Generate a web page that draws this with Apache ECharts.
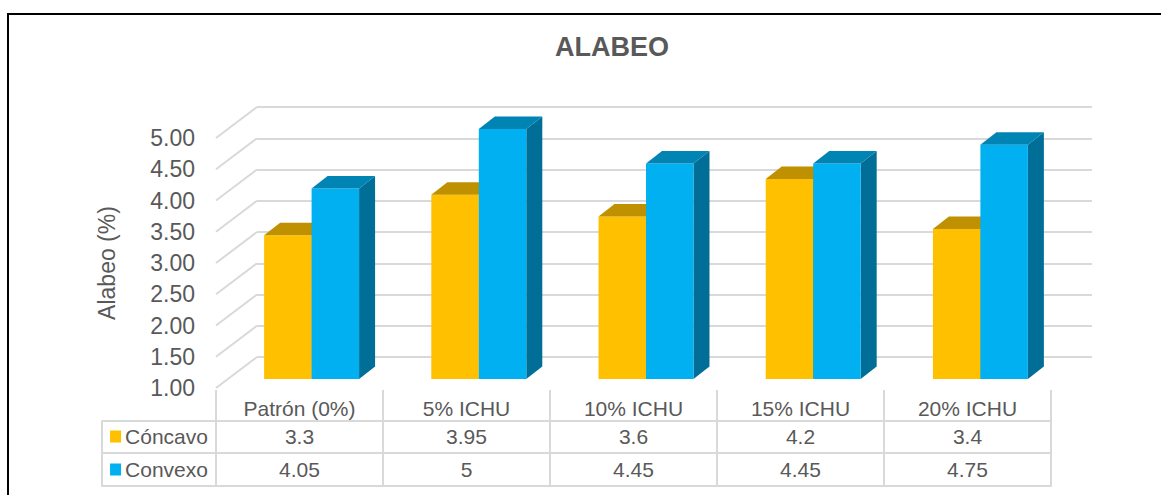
<!DOCTYPE html>
<html>
<head>
<meta charset="utf-8">
<script src="https://cdn.jsdelivr.net/npm/echarts@6/dist/echarts.min.js"></script>
<style>
html,body{margin:0;padding:0;background:#fff;}
#c{width:1161px;height:495px;}
</style>
</head>
<body>
<div id="c"></div>
<script>
// ---- data ----
const categories = ['Patrón (0%)', '5% ICHU', '10% ICHU', '15% ICHU', '20% ICHU'];
const seriesNames = ['Cóncavo', 'Convexo'];
const concavo = [3.3, 3.95, 3.6, 4.2, 3.4];
const convexo = [4.05, 5, 4.45, 4.45, 4.75];
const yTicks = [1, 1.5, 2, 2.5, 3, 3.5, 4, 4.5, 5];
const yMin = 1, yMax = 5, yStep = 0.5;

// ---- styles / layout ----
const FONT = 'Liberation Sans, Arial, sans-serif';
const TXT = '#595959';
const GRID_COLOR = '#d9d9d9';
const DEPTH_X = 41, DEPTH_Y = -31;     // back wall offset
const DX = 16, DY = -12.5;             // bar depth
const BAR_FRAC = 0.284;
const COLORS = [
  {front: '#FFC000', top: '#BF9000', side: '#9E7700'},
  {front: '#00B0F0', top: '#0084B4', side: '#006E96'}
];

function makeBarRender(side, colors) {
  return function (params, api) {
    const i = api.value(0), v = api.value(1);
    const top = api.coord([i, v]);
    const base = api.coord([i, yMin]);
    const band = api.size([1, 0])[0];
    const w = band * BAR_FRAC;
    const x0 = side < 0 ? top[0] - w : top[0];
    const yT = top[1], yB = base[1];
    return {
      type: 'group',
      children: [
        {type: 'polygon', shape: {points: [[x0 + w, yT], [x0 + w + DX, yT + DY], [x0 + w + DX, yB + DY], [x0 + w, yB]]}, style: {fill: colors.side}},
        {type: 'rect', shape: {x: x0, y: yT, width: w, height: yB - yT}, style: {fill: colors.front}},
        {type: 'polygon', shape: {points: [[x0, yT], [x0 + w, yT], [x0 + w + DX, yT + DY], [x0 + DX, yT + DY]]}, style: {fill: colors.top}}
      ]
    };
  };
}

function renderDiag(params, api) {
  const p = api.coord([0, api.value(1)]);
  const half = api.size([1, 0])[0] / 2;
  const x = p[0] - half;
  return {
    type: 'line',
    shape: {x1: x, y1: p[1], x2: x + DEPTH_X, y2: p[1] + DEPTH_Y},
    style: {stroke: GRID_COLOR, lineWidth: 2}
  };
}

const lineStyle = {color: GRID_COLOR, width: 2};
const labelBase = {fontFamily: FONT, fontSize: 21, color: TXT, interval: 0};

function tableAxis(grid, data, offset, tickLen, opts) {
  return Object.assign({
    gridIndex: grid, type: 'category', data: data, position: 'bottom', offset: offset,
    axisLine: {show: true, lineStyle: lineStyle},
    axisTick: {show: tickLen > 0, interval: 0, length: tickLen, lineStyle: lineStyle},
    axisLabel: {show: false},
    splitLine: {show: false}
  }, opts || {});
}

function legendLabel(idx, margin) {
  const rich = {
    sq: {width: 11, height: 12, backgroundColor: COLORS[idx].front, verticalAlign: 'middle'},
    t: {fontFamily: FONT, fontSize: 21, color: TXT, padding: [0, 0, 0, 4], verticalAlign: 'middle'}
  };
  return {show: true, interval: 0, margin: margin, formatter: (v) => '{sq|}{t|' + v + '}', rich: rich};
}

const chart = echarts.init(document.getElementById('c'), null, {renderer: 'svg'});
chart.setOption({
  backgroundColor: '#fff',
  animation: false,
  textStyle: {fontFamily: FONT},
  title: {
    text: 'ALABEO', left: 612, top: 33, textAlign: 'center', padding: 0,
    textStyle: {fontFamily: FONT, fontSize: 27, fontWeight: 'bold', color: TXT}
  },
  graphic: [{
    type: 'rect', shape: {x: 8, y: 14, width: 1300, height: 700},
    style: {fill: 'none', stroke: '#000', lineWidth: 2}, silent: true, z: 100
  }],
  grid: [
    {left: 228, top: 129, width: 836, height: 250, containLabel: false, outerBoundsMode: 'none'}, // bars plane
    {left: 216, top: 138, width: 835, height: 250, containLabel: false, outerBoundsMode: 'none'}, // front plane + table
    {left: 257, top: 107, width: 835, height: 250, containLabel: false, outerBoundsMode: 'none'}, // back wall
    {left: 102, top: 138, width: 114, height: 250, containLabel: false, outerBoundsMode: 'none'}  // legend column
  ],
  xAxis: [
    {gridIndex: 0, type: 'category', data: categories, show: false},
    tableAxis(1, categories, 2, 31, {
      axisLine: {show: false},
      axisLabel: Object.assign({show: true, margin: 8}, labelBase)
    }),
    tableAxis(1, categories, 33, 32, {
      axisLabel: Object.assign({show: true, margin: 5, formatter: (v, i) => String(concavo[i])}, labelBase)
    }),
    tableAxis(1, categories, 65, 33, {
      axisLabel: Object.assign({show: true, margin: 6, formatter: (v, i) => String(convexo[i])}, labelBase)
    }),
    tableAxis(1, categories, 98, 0),
    {gridIndex: 2, type: 'value', min: 0, max: 1, show: false},
    tableAxis(3, [seriesNames[0]], 33, 32, {axisLabel: legendLabel(0, 5)}),
    tableAxis(3, [seriesNames[1]], 65, 33, {axisLabel: legendLabel(1, 6)}),
    tableAxis(3, [''], 98, 0)
  ],
  yAxis: [
    {gridIndex: 0, type: 'value', min: yMin, max: yMax, show: false},
    {
      gridIndex: 1, type: 'value', min: yMin, max: yMax, interval: yStep,
      name: 'Alabeo (%)', nameLocation: 'middle', nameGap: 98, nameRotate: 90,
      nameTextStyle: {fontFamily: FONT, fontSize: 23, color: TXT},
      axisLine: {show: false}, axisTick: {show: false}, splitLine: {show: false},
      axisLabel: {fontFamily: FONT, fontSize: 23, color: TXT, margin: 21, formatter: (v) => v.toFixed(2)}
    },
    {
      gridIndex: 2, type: 'value', min: yMin, max: yMax, interval: yStep,
      axisLine: {show: false}, axisTick: {show: false}, axisLabel: {show: false},
      splitLine: {show: true, lineStyle: lineStyle}
    },
    {gridIndex: 3, type: 'value', min: yMin, max: yMax, show: false}
  ],
  series: [
    {
      type: 'custom', name: 'grid-depth', xAxisIndex: 1, yAxisIndex: 1, silent: true, z: 1,
      data: yTicks.map(v => [0, v]), renderItem: renderDiag
    },
    {
      type: 'custom', name: seriesNames[0], xAxisIndex: 0, yAxisIndex: 0, z: 3,
      data: concavo.map((v, i) => [i, v]), renderItem: makeBarRender(-1, COLORS[0])
    },
    {
      type: 'custom', name: seriesNames[1], xAxisIndex: 0, yAxisIndex: 0, z: 3,
      data: convexo.map((v, i) => [i, v]), renderItem: makeBarRender(1, COLORS[1])
    }
  ]
});
</script>
</body>
</html>
